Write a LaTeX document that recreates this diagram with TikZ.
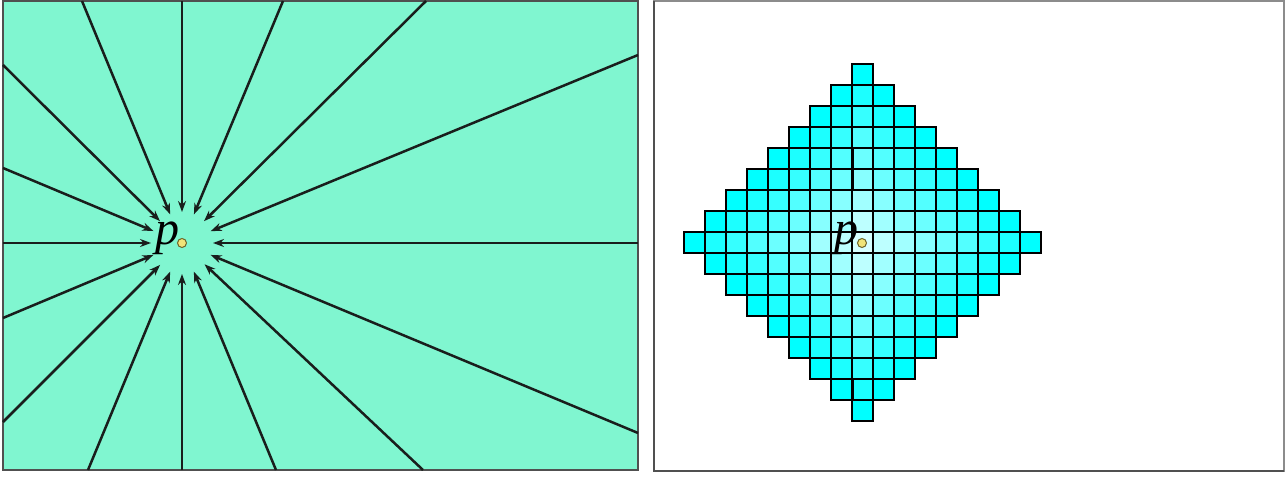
\documentclass[tikz,border=0pt]{standalone}
\usepackage{fontspec}
\setmainfont{Liberation Serif}
\usetikzlibrary{arrows.meta,calc}
\definecolor{panelgreen}{RGB}{128,246,208}
\definecolor{raycol}{RGB}{25,30,28}
\definecolor{dotfill}{RGB}{240,228,120}
\definecolor{dotline}{RGB}{110,100,40}
\definecolor{bordergray}{RGB}{80,80,80}
\definecolor{borderlight}{RGB}{140,140,140}
\definecolor{cellcyan}{RGB}{0,255,255}
\tikzset{
  ray/.style={draw=raycol, line width=2.5pt, -{Stealth[length=11pt,width=8pt]}, shorten >=31pt},
  pdot/.style={circle, draw=dotline, fill=dotfill, line width=1pt, minimum size=9pt, inner sep=0pt},
  plabel/.style={inner sep=0pt, anchor=base, font=\fontsize{48}{48}\selectfont\itshape},
  cellbox/.style={draw=black, line width=1.6pt},
  thickedge/.style={draw=black, line width=3pt},
}
\begin{document}
\begin{tikzpicture}[x=1pt,y=-1pt]
\useasboundingbox (0,0) rectangle (1287,478);
% ---------- left panel ----------
\draw[fill=panelgreen, draw=bordergray, line width=2pt] (3,1) rectangle (638,470);
\node[pdot] (P) at (182,243) {};
\node[plabel] (pl) at (167,245) {p};
% edge end points
\coordinate (t1) at (82,1);
\coordinate (t2) at (182,1);
\coordinate (t3) at (283,1);
\coordinate (t4) at (426,1);
\coordinate (l1) at (3,65);
\coordinate (l2) at (3,168);
\coordinate (l3) at (3,243);
\coordinate (l4) at (3,318);
\coordinate (l5) at (3,422);
\coordinate (r1) at (638,55);
\coordinate (r2) at (638,243);
\coordinate (r3) at (638,433);
\coordinate (b1) at (88,470);
\coordinate (b2) at (182,470);
\coordinate (b3) at (276,470);
\coordinate (b4) at (423,470);
\foreach \e in {t1,t2,t3,t4,l1,l2,l3,l4,l5,r1,r2,r3,b1,b2,b3,b4}
  \draw[ray] (\e) -- (P.center);
% ---------- right panel ----------
\draw[fill=white, draw=borderlight, line width=2pt] (654,1) rectangle (1284,471);
\draw[bordergray, line width=1.5pt] (654,1) -- (654,471) -- (1284,471);
\foreach \i in {-8,...,8} {
  \foreach \j in {-8,...,8} {
    \pgfmathtruncatemacro\d{abs(\i)+abs(\j)}
    \ifnum\d<9
      \pgfmathtruncatemacro\pc{16+84*\d/8}
      \path[cellbox, fill=cellcyan!\pc!white]
        ({862.5+21*\i-10.5},{242.5+21*\j-10.5}) rectangle ++(21,21);
    \fi
  }
}
\draw[thickedge] (852,148) -- (852,190);
\draw[thickedge] (852,379) -- (852,400);
\node[pdot] (Q) at (862,243) {};
\node[plabel] (ql) at (846,245) {p};
\end{tikzpicture}
\end{document}
